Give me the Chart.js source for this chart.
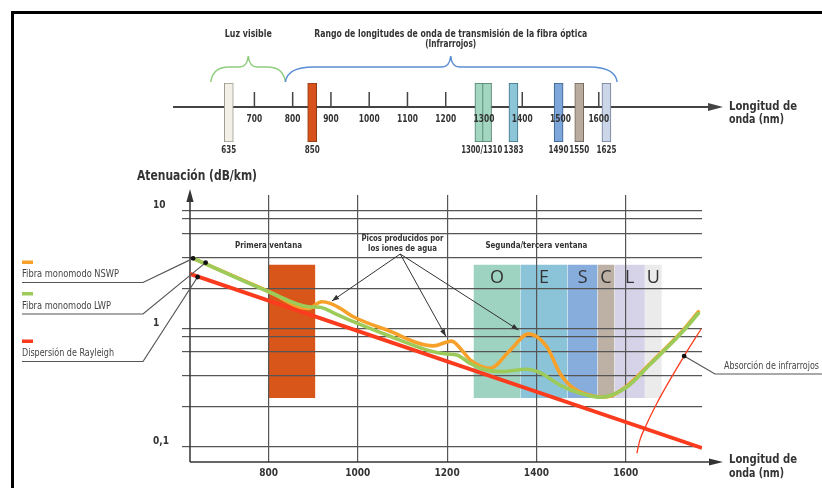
<!DOCTYPE html>
<html lang="es">
<head>
<meta charset="utf-8">
<title>Atenuación en fibra óptica</title>
<script src="https://cdn.jsdelivr.net/npm/chart.js@4.4.1/dist/chart.umd.min.js"></script>
<style>
  html, body { margin: 0; padding: 0; background: #fff; }
  #wrap { position: relative; width: 822px; height: 488px; overflow: hidden; }
  #wrap canvas { position: absolute; left: 0; top: 0; }
  #frame { position: absolute; left: 11px; top: 11px; width: 820px; height: 480px;
           border-top: 3px solid #000; border-left: 3px solid #000; pointer-events: none; }
</style>
</head>
<body>
<div id="wrap">
  <canvas id="mainChart" width="822" height="488"></canvas>
  <canvas id="topChart" width="822" height="160"></canvas>
  <div id="frame"></div>
</div>
<script>
// ---- Espectro superior ----
const topTicks = [700, 800, 900, 1000, 1100, 1200, 1300, 1400, 1500, 1600];
const topMarks = [633, 851, 1288, 1308, 1377, 1495, 1549, 1620];
const topMarkFill = ['#f3f0e8', '#d8531b', '#a3d6c1', '#a3d6c1', '#8dc6d9', '#7da6db', '#b9ac9e', '#cbd6e9'];
const topMarkStroke = ['#9a978e', '#8a3a12', '#4f7d6a', '#4f7d6a', '#3f7185', '#3b5f8a', '#6f6459', '#6f7d94'];
const topLabelAt = [633, 851, 1294, 1377, 1495, 1549, 1620];
const topLabelText = ['635', '850', '1300/1310', '1383', '1490', '1550', '1625'];
const visibleRange = [586, 684, 781];
const infraredRange = [781, 1213, 1648];

// ---- Gráfico de atenuación ----
const xTicks = [800, 1000, 1200, 1400, 1600];
const yGrid = [10, 8.7, 6.4, 4, 2.2, 1, 0.87, 0.64, 0.4, 0.22, 0.1];
const yLabelValues = [10, 1, 0.1];
const yLabelTexts = ['10', '1', '0,1'];

const nswpX = [631, 800, 889, 919, 938, 960, 990, 1065, 1169, 1210, 1236, 1251, 1296, 1341, 1382, 1423, 1453, 1483, 1528, 1554, 1601, 1655, 1729, 1763];
const nswpY = [3.97, 2.08, 1.49, 1.70, 1.65, 1.50, 1.27, 0.98, 0.72, 0.79, 0.64, 0.55, 0.465, 0.66, 0.91, 0.71, 0.42, 0.315, 0.27, 0.265, 0.325, 0.51, 0.98, 1.40];

const lwpX = [631, 800, 889, 915, 949, 990, 1065, 1162, 1199, 1222, 1251, 1274, 1319, 1378, 1408, 1453, 1498, 1543, 1601, 1655, 1729, 1763];
const lwpY = [3.97, 2.07, 1.545, 1.53, 1.35, 1.153, 0.889, 0.651, 0.614, 0.602, 0.512, 0.465, 0.435, 0.456, 0.426, 0.335, 0.285, 0.264, 0.319, 0.502, 0.962, 1.359];

const rayleighX = [624, 1200, 1771];
const rayleighY = [2.93, 0.532, 0.098];

const infraredX = [1625, 1632, 1643, 1670, 1731, 1769];
const infraredY = [0.0885, 0.115, 0.145, 0.235, 0.59, 1.0];

const firstWindow = [800, 905];
const bandLetters = ['O', 'E', 'S', 'C', 'L', 'U'];
const bandEdges = [1259, 1364, 1470, 1537, 1575, 1643, 1681];
const bandColors = ['#9fd3c1', '#8bc4d9', '#87addc', '#bdb0a4', '#d6d2e7', '#ebebeb'];
const bandRange = [0.26, 3.5];

const windowLabels = ['Primera ventana', 'Segunda/tercera ventana'];
const windowLabelX = [800, 1400];

const legendLabels = ['Fibra monomodo NSWP', 'Fibra monomodo LWP', 'Dispersión de Rayleigh'];
const legendAnchorX = [631, 659, 641];
const legendAnchorY = [3.97, 3.65, 2.76];

const waterFrom = [1095, 4.32];
const waterPeakX = [942, 1197, 1360];
const waterPeakY = [1.73, 0.87, 0.98];
const infraredAnchor = [1731, 0.59];

const C_NSWP = '#f7a12a';
const C_LWP = '#9ccb5a';
const C_RAY = '#fb3b1e';
const FONT = '"Liberation Sans Narrow", "DejaVu Sans Condensed", "Open Sans", sans-serif';

Chart.defaults.font.family = FONT;
Chart.defaults.color = '#333';

// utilidades de dibujo
function text(ctx, s, x, y, font, opts = {}) {
  ctx.font = font;
  ctx.fillStyle = opts.color || '#333';
  ctx.textAlign = opts.align || 'left';
  ctx.textBaseline = 'middle';
  if (opts.maxW) ctx.fillText(s, x, y, opts.maxW);
  else ctx.fillText(s, x, y);
}
function seg(ctx, x1, y1, x2, y2) {
  ctx.beginPath(); ctx.moveTo(x1, y1); ctx.lineTo(x2, y2); ctx.stroke();
}
function head(ctx, tx, ty, fx, fy, len, half) {
  const a = Math.atan2(ty - fy, tx - fx);
  const bx = tx - len * Math.cos(a), by = ty - len * Math.sin(a);
  ctx.beginPath();
  ctx.moveTo(tx, ty);
  ctx.lineTo(bx + half * Math.sin(a), by - half * Math.cos(a));
  ctx.lineTo(bx - half * Math.sin(a), by + half * Math.cos(a));
  ctx.closePath(); ctx.fill();
}
function dot(ctx, x, y) {
  ctx.fillStyle = '#111';
  ctx.beginPath(); ctx.arc(x, y, 2.4, 0, Math.PI * 2); ctx.fill();
}
function brace(ctx, x0, xm, x1, yEnd, yMid, yPeak, r) {
  ctx.beginPath();
  ctx.moveTo(x0, yEnd);
  ctx.quadraticCurveTo(x0 + 2, yMid, x0 + r, yMid);
  ctx.lineTo(xm - 9, yMid);
  ctx.quadraticCurveTo(xm - 1, yMid, xm, yPeak);
  ctx.quadraticCurveTo(xm + 1, yMid, xm + 9, yMid);
  ctx.lineTo(x1 - r, yMid);
  ctx.quadraticCurveTo(x1 - 2, yMid, x1, yEnd);
  ctx.stroke();
}
const pts = (xs, ys) => xs.map((x, i) => ({ x, y: ys[i] }));

// ---------- gráfico superior ----------
const topDecor = {
  id: 'topDecor',
  beforeDatasetsDraw(chart) {
    const { ctx, chartArea: a, scales: { x } } = chart;
    const ly = a.top + 24;
    ctx.save();
    // llaves
    ctx.lineWidth = 1.5;
    ctx.strokeStyle = '#8fcd7e';
    brace(ctx, x.getPixelForValue(visibleRange[0]), x.getPixelForValue(visibleRange[1]),
      x.getPixelForValue(visibleRange[2]), a.top - 1, a.top - 16, a.top - 27, 18);
    ctx.strokeStyle = '#5b8ed4';
    brace(ctx, x.getPixelForValue(infraredRange[0]), x.getPixelForValue(infraredRange[1]),
      x.getPixelForValue(infraredRange[2]), a.top - 1, a.top - 16, a.top - 27, 28);
    // eje del espectro
    ctx.strokeStyle = '#444'; ctx.fillStyle = '#444'; ctx.lineWidth = 2;
    seg(ctx, a.left, ly, a.right + 8, ly);
    head(ctx, a.right + 21, ly, a.left, ly, 15, 4);
    ctx.lineWidth = 1.5;
    topTicks.forEach(v => {
      const px = x.getPixelForValue(v);
      seg(ctx, px, ly - 15, px, ly);
    });
    ctx.restore();
  },
  afterDatasetsDraw(chart) {
    const { ctx, chartArea: a, scales: { x } } = chart;
    const ly = a.top + 24;
    ctx.save();
    const f = 'bold 10px ' + FONT;
    topTicks.forEach(v => {
      const s = String(v);
      text(ctx, s, x.getPixelForValue(v), ly + 12, f, { align: 'center', maxW: s.length * 5.2 });
    });
    topLabelAt.forEach((v, i) => {
      const s = topLabelText[i];
      text(ctx, s, x.getPixelForValue(v), a.bottom + 8, f,
        { align: 'center', maxW: Math.min(s.length * 5, 41) });
    });
    text(ctx, 'Luz visible', x.getPixelForValue(visibleRange[1]), 34, f, { align: 'center', maxW: 47 });
    text(ctx, 'Rango de longitudes de onda de transmisión de la fibra óptica',
      x.getPixelForValue(infraredRange[1]), 34, f, { align: 'center', maxW: 273 });
    text(ctx, '(Infrarrojos)', x.getPixelForValue(infraredRange[1]), 44.5, f, { align: 'center', maxW: 51 });
    text(ctx, 'Longitud de', a.right + 27, ly, '600 13px ' + FONT, { maxW: 68 });
    text(ctx, 'onda (nm)', a.right + 27, ly + 12.5, '600 13px ' + FONT, { maxW: 55 });
    ctx.restore();
  }
};

new Chart(document.getElementById('topChart'), {
  type: 'bar',
  data: {
    datasets: [{
      data: topMarks.map(v => ({ x: v, y: [0, 1] })),
      backgroundColor: topMarkFill,
      borderColor: topMarkStroke,
      borderWidth: 1,
      borderSkipped: false,
      barThickness: 9
    }]
  },
  options: {
    responsive: false,
    animation: false,
    events: [],
    layout: { padding: { left: 173, right: 120, top: 83, bottom: 18 } },
    plugins: { legend: { display: false }, tooltip: { enabled: false } },
    scales: {
      x: { type: 'linear', min: 586, max: 1771, display: false },
      y: { min: 0, max: 1, display: false }
    }
  },
  plugins: [topDecor]
});

// ---------- gráfico de atenuación ----------
const bandSets = [{
  data: pts(firstWindow, [bandRange[1], bandRange[1]]),
  backgroundColor: '#d9561b'
}];
bandLetters.forEach((l, i) => {
  bandSets.push({
    data: pts([bandEdges[i], bandEdges[i + 1]], [bandRange[1], bandRange[1]]),
    backgroundColor: bandColors[i]
  });
});
bandSets.forEach(d => Object.assign(d, {
  fill: { value: bandRange[0] }, borderWidth: 0, pointRadius: 0, order: 10
}));

const mainDecor = {
  id: 'mainDecor',
  beforeDatasetsDraw(chart) {
    const { ctx, chartArea: a, scales: { x, y } } = chart;
    ctx.save();
    // ejes con flecha
    ctx.strokeStyle = '#333'; ctx.fillStyle = '#333'; ctx.lineWidth = 1.5;
    seg(ctx, a.left, a.bottom, a.right + 8, a.bottom);
    head(ctx, a.right + 21, a.bottom, a.left, a.bottom, 14, 3.6);
    seg(ctx, a.left, a.bottom, a.left, a.top);
    head(ctx, a.left, a.top - 6, a.left, a.bottom, 13, 3.6);
    text(ctx, 'Atenuación (dB/km)', a.left - 53, a.top - 19, 'bold 14px ' + FONT, { maxW: 120 });
    text(ctx, 'Longitud de', a.right + 27, a.bottom - 2, '600 13px ' + FONT, { maxW: 68 });
    text(ctx, 'onda (nm)', a.right + 27, a.bottom + 11.5, '600 13px ' + FONT, { maxW: 55 });
    // rótulos
    const lab = 'bold 9.5px ' + FONT;
    text(ctx, windowLabels[0], x.getPixelForValue(windowLabelX[0]), y.getPixelForValue(5.05), lab, { align: 'center', maxW: 67 });
    text(ctx, windowLabels[1], x.getPixelForValue(windowLabelX[1]), y.getPixelForValue(5.05), lab, { align: 'center', maxW: 102 });
    const px = x.getPixelForValue(1100), py = y.getPixelForValue(5.79);
    text(ctx, 'Picos producidos por', px, py, lab, { align: 'center', maxW: 82 });
    text(ctx, 'los iones de agua', px, py + 9.5, lab, { align: 'center', maxW: 69 });
    bandLetters.forEach((l, i) => {
      const cx = x.getPixelForValue((bandEdges[i] + bandEdges[i + 1]) / 2);
      text(ctx, l, cx, y.getPixelForValue(2.7), '18px "Open Sans", sans-serif', { align: 'center', color: '#333' });
    });
    ctx.restore();
  },
  afterDatasetsDraw(chart) {
    const { ctx, chartArea: a, scales: { x, y } } = chart;
    ctx.save();
    // leyenda con líneas de referencia
    const rows = [262, 293.5, 341];
    const widths = [97, 89, 92];
    const colors = [C_NSWP, C_LWP, C_RAY];
    legendLabels.forEach((s, i) => {
      const r = rows[i];
      ctx.fillStyle = colors[i];
      ctx.fillRect(22, r - 1.5, 11, 3.5);
      text(ctx, s, 22, r + 12.5, '11px ' + FONT, { color: '#444', maxW: widths[i] });
      const ax = x.getPixelForValue(legendAnchorX[i]), ay = y.getPixelForValue(legendAnchorY[i]);
      ctx.strokeStyle = '#555'; ctx.lineWidth = 1.2;
      ctx.beginPath(); ctx.moveTo(22, r + 20.5); ctx.lineTo(143, r + 20.5); ctx.lineTo(ax, ay); ctx.stroke();
      dot(ctx, ax, ay);
    });
    // absorción de infrarrojos
    const ix = x.getPixelForValue(infraredAnchor[0]), iy = y.getPixelForValue(infraredAnchor[1]);
    ctx.strokeStyle = '#555'; ctx.lineWidth = 1.2;
    ctx.beginPath(); ctx.moveTo(ix, iy); ctx.lineTo(a.right + 13, 374); ctx.lineTo(822, 374); ctx.stroke();
    dot(ctx, ix, iy);
    text(ctx, 'Absorción de infrarrojos', a.right + 22, 366, '10px ' + FONT, { color: '#444', maxW: 95 });
    // flechas de los picos de agua
    const sx = x.getPixelForValue(waterFrom[0]), sy = y.getPixelForValue(waterFrom[1]);
    ctx.strokeStyle = '#333'; ctx.fillStyle = '#333'; ctx.lineWidth = 1;
    waterPeakX.forEach((v, i) => {
      const tx = x.getPixelForValue(v), ty = y.getPixelForValue(waterPeakY[i]);
      seg(ctx, sx, sy, tx, ty);
      head(ctx, tx, ty, sx, sy, 7, 2.6);
    });
    ctx.restore();
  }
};

new Chart(document.getElementById('mainChart'), {
  type: 'line',
  data: {
    datasets: [
      { label: 'Absorción de infrarrojos', data: pts(infraredX, infraredY), borderColor: C_RAY,
        borderWidth: 1.3, cubicInterpolationMode: 'monotone', order: 0 },
      { label: 'Fibra monomodo LWP', data: pts(lwpX, lwpY), borderColor: C_LWP,
        borderWidth: 3.6, cubicInterpolationMode: 'monotone', borderCapStyle: 'round', order: 1 },
      { label: 'Fibra monomodo NSWP', data: pts(nswpX, nswpY), borderColor: C_NSWP,
        borderWidth: 3.6, cubicInterpolationMode: 'monotone', borderCapStyle: 'round', order: 2 },
      { label: 'Dispersión de Rayleigh', data: pts(rayleighX, rayleighY), borderColor: C_RAY,
        borderWidth: 3.8, tension: 0, order: 3 },
      ...bandSets
    ].map(d => Object.assign({ pointRadius: 0, fill: false }, d))
  },
  options: {
    responsive: false,
    animation: false,
    events: [],
    layout: { padding: { left: 153, right: 120, top: 195, bottom: 0 } },
    plugins: {
      legend: { display: false },
      tooltip: { enabled: false },
      filler: { drawTime: 'beforeDraw' }
    },
    scales: {
      x: {
        type: 'linear', min: 624, max: 1771,
        afterBuildTicks: s => { s.ticks = xTicks.map(v => ({ value: v })); },
        afterFit: s => { s.height = 26; },
        grid: { color: '#555', lineWidth: 1.2, drawTicks: false },
        border: { display: false },
        ticks: { autoSkip: false, padding: 5, color: '#333', font: { size: 10, weight: 'bold' },
          callback: v => String(v) }
      },
      y: {
        type: 'logarithmic', min: 0.0746, max: 13.67,
        afterBuildTicks: s => { s.ticks = yGrid.map(v => ({ value: v })); },
        afterFit: s => { s.width = 37; },
        grid: { color: '#555', lineWidth: 1.2, drawTicks: true, tickLength: 8 },
        border: { display: false },
        ticks: {
          autoSkip: false, crossAlign: 'far', labelOffset: -6, color: '#333',
          font: { size: 10, weight: 'bold' },
          callback: v => { const i = yLabelValues.indexOf(v); return i < 0 ? '' : yLabelTexts[i]; }
        }
      }
    }
  },
  plugins: [mainDecor]
});
</script>
</body>
</html>
